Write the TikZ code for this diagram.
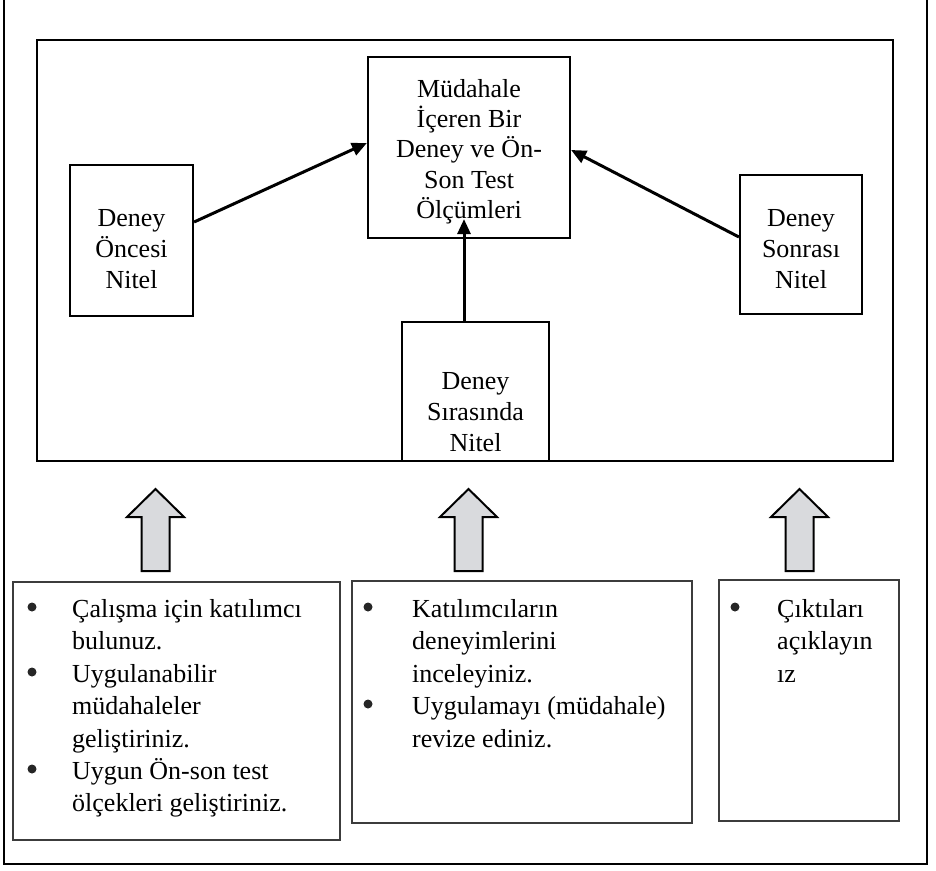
\documentclass[tikz,border=0pt]{standalone}
\usepackage{fontspec}
\setmainfont{Liberation Serif}
\usetikzlibrary{arrows.meta}
\definecolor{arrowgray}{RGB}{217,218,221}
\definecolor{thinline}{RGB}{60,60,60}
\newcommand\myline[4]{\node[txt,anchor=base west] (#1) at (#2,#3) {#4};}
\newcommand\mycline[4]{\node[txt,anchor=base] (#1) at (#2,#3) {#4};}
\newcommand\mybullet[3]{\node[dotmark] (#1) at (#2,#3) {};}
\begin{document}
\begin{tikzpicture}[x=1pt,y=-1pt,
  txt/.style={inner sep=0pt,font=\fontsize{26}{31}\selectfont},
  frame/.style={draw,line width=2.2pt,inner sep=0pt},
  topbox/.style={draw,line width=2.2pt,inner sep=0pt},
  lowbox/.style={draw=thinline,line width=1.2pt,inner sep=0pt},
  dotmark/.style={circle,fill=black!85,inner sep=0pt,minimum size=9pt},
  conn/.style={line width=3pt,-{Triangle[length=15pt,width=13pt]}},
  blockup/.pic={\draw[line width=2pt,fill=arrowgray,line join=miter]
     (0,0) -- (28.5,28) -- (14,28) -- (14,82) -- (-14,82) -- (-14,28) -- (-28.5,28) -- cycle;}]
\useasboundingbox (0,0) rectangle (936,870);
% outer frame (top edge lies above the picture)
\node[frame,minimum width=923pt,minimum height=884pt] (outer) at (465.5,422) {};
% inner frame
\node[frame,minimum width=856pt,minimum height=421pt] (inner) at (465,250.5) {};
% boxes in the inner frame
\node[topbox,minimum width=202pt,minimum height=181pt] (cbox) at (469,147.5) {};
\node[topbox,minimum width=123pt,minimum height=151pt] (lbox) at (131.5,240.5) {};
\node[topbox,minimum width=122pt,minimum height=139pt] (rbox) at (801,244.5) {};
\node[topbox,minimum width=147pt,minimum height=139pt] (bbox) at (475.5,391.5) {};
% texts of the inner boxes
\mycline{c1}{469}{97}{Müdahale}
\mycline{c2}{469}{127}{İçeren Bir}
\mycline{c3}{469}{157}{Deney ve Ön-}
\mycline{c4}{469}{188}{Son Test}
\mycline{c5}{469}{218}{Ölçümleri}
\mycline{l1}{131.5}{226}{Deney}
\mycline{l2}{131.5}{257}{Öncesi}
\mycline{l3}{131.5}{288}{Nitel}
\mycline{r1}{801}{226}{Deney}
\mycline{r2}{801}{257}{Sonrası}
\mycline{r3}{801}{288}{Nitel}
\mycline{b1}{475.5}{389}{Deney}
\mycline{b2}{475.5}{420}{Sırasında}
\mycline{b3}{475.5}{451}{Nitel}
% connectors
\draw[conn] ([yshift=18.5pt]lbox.east) -- ([yshift=4.5pt]cbox.west);
\draw[conn] ([yshift=7.5pt]rbox.west) -- ([yshift=-2.5pt]cbox.east);
\draw[conn] ([xshift=-11.5pt]bbox.north) -- ([xshift=-5pt,yshift=20pt]cbox.south);
% block arrows
\pic at (155.5,489) {blockup};
\pic at (468.5,489) {blockup};
\pic at (799.5,489) {blockup};
% lower boxes
\node[lowbox,minimum width=327pt,minimum height=258pt] (lowl) at (176.5,711) {};
\node[lowbox,minimum width=340pt,minimum height=242pt] (lowm) at (522,702) {};
\node[lowbox,minimum width=180pt,minimum height=241pt] (lowr) at (809,700.5) {};
% left list
\mybullet{pa}{32}{607}
\myline{ta1}{72}{617}{Çalışma için katılımcı}
\myline{ta2}{72}{649}{bulunuz.}
\mybullet{pb}{32}{672}
\myline{tb1}{72}{682}{Uygulanabilir}
\myline{tb2}{72}{714}{müdahaleler}
\myline{tb3}{72}{747}{geliştiriniz.}
\mybullet{pc}{32}{769}
\myline{tc1}{72}{779}{Uygun Ön-son test}
\myline{tc2}{72}{811}{ölçekleri geliştiriniz.}
% middle list
\mybullet{pd}{368}{607}
\myline{td1}{412}{617}{Katılımcıların}
\myline{td2}{412}{649}{deneyimlerini}
\myline{td3}{412}{682}{inceleyiniz.}
\mybullet{pe}{368}{704}
\myline{te1}{412}{714}{Uygulamayı (müdahale)}
\myline{te2}{412}{747}{revize ediniz.}
% right list
\mybullet{pf}{735}{607}
\myline{tf1}{777}{617}{Çıktıları}
\myline{tf2}{777}{649}{açıklayın}
\myline{tf3}{777}{682}{ız}
\end{tikzpicture}
\end{document}
